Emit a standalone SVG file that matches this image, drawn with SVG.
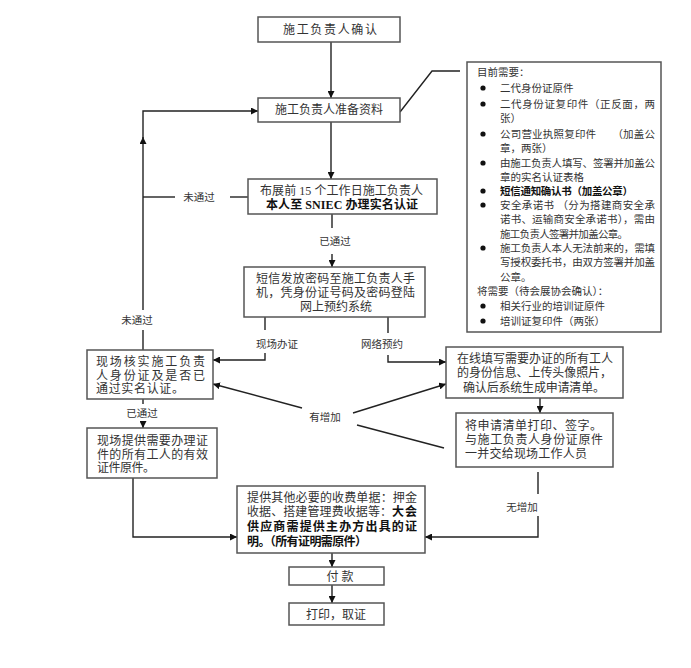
<svg xmlns="http://www.w3.org/2000/svg" width="691" height="668" viewBox="0 0 691 668">
<style>
.bx{fill:#fff;stroke:#555;stroke-width:1.5}
.t{font-family:"Liberation Serif","Noto Sans CJK SC",serif;font-size:12px;fill:#333;dominant-baseline:central}
.b{font-weight:bold;fill:#111}
.s{font-size:10.5px}
.l{font-size:10.5px;text-anchor:middle}
.c{text-anchor:middle}
.ln{fill:none;stroke:#222;stroke-width:1.4}
.ar{marker-end:url(#ah)}
</style>
<defs>
<marker id="ah" viewBox="0 0 10 10" refX="10" refY="5" markerWidth="7" markerHeight="7" orient="auto" markerUnits="userSpaceOnUse"><path d="M0,0 L10,5 L0,10 z" fill="#111"/></marker>
</defs>
<rect width="691" height="668" fill="#fff"/>

<g id="connectors">
<path class="ln ar" d="M331,42 V98"/>
<path class="ln ar" d="M331,122 V179"/>
<path class="ln" d="M400,112 L432,71 H460"/>
<path class="ln" d="M332,214 V228"/>
<path class="ln ar" d="M332,254 V267"/>
<path class="ln" d="M248,197 H230"/>
<path class="ln" d="M175,197 H143"/>
<path class="ln" d="M143,350 V330"/>
<path class="ln ar" d="M143,310 V137"/>
<path class="ln ar" d="M143,140 V111 H258"/>
<path class="ln" d="M265,317 V330"/>
<path class="ln ar" d="M265,353 V360 H213"/>
<path class="ln" d="M388,317 V333"/>
<path class="ln ar" d="M388,355 V362 H446"/>
<path class="ln ar" d="M302,408 L213,384"/>
<path class="ln ar" d="M353,413 L446,384"/>
<path class="ln" d="M357,425 L444,448"/>
<path class="ln" d="M143,399 V404"/>
<path class="ln ar" d="M143,421 V428"/>
<path class="ln ar" d="M133,478 V537 H237"/>
<path class="ln ar" d="M540,398 V413"/>
<path class="ln" d="M538,472 V494"/>
<path class="ln ar" d="M538,516 V537 H425"/>
<path class="ln ar" d="M332,553 V567"/>
<path class="ln ar" d="M332,585 V603"/>
<text class="t l" x="199" y="197">未通过</text>
<text class="t l" x="137" y="320">未通过</text>
<text class="t l" x="335" y="241">已通过</text>
<text class="t l" x="277" y="344">现场办证</text>
<text class="t l" x="382" y="344">网络预约</text>
<text class="t l" x="325" y="417">有增加</text>
<text class="t l" x="142" y="413">已通过</text>
<text class="t l" x="522" y="507">无增加</text>
</g>

<g id="n1">
<rect class="bx" x="258" y="17" width="142" height="25"/>
<text class="t" x="283" y="30" textLength="94" lengthAdjust="spacing">施工负责人确认</text>
</g>

<g id="n2">
<rect class="bx" x="258" y="98" width="142" height="24"/>
<text class="t" x="275" y="110" textLength="108" lengthAdjust="spacing">施工负责人准备资料</text>
</g>

<g id="n3">
<rect class="bx" x="248" y="179" width="189" height="35"/>
<text class="t" x="260" y="191" textLength="163" lengthAdjust="spacing">布展前 15 个工作日施工负责人</text>
<text class="t b" x="266" y="205" textLength="152" lengthAdjust="spacing">本人至 SNIEC 办理实名认证</text>
</g>

<g id="n4">
<rect class="bx" x="244" y="267" width="181" height="50"/>
<text class="t" x="256" y="279" textLength="159" lengthAdjust="spacing">短信发放密码至施工负责人手</text>
<text class="t" x="256" y="293" textLength="159" lengthAdjust="spacing">机，凭身份证号码及密码登陆</text>
<text class="t c" x="336" y="307">网上预约系统</text>
</g>

<g id="n5">
<rect class="bx" x="87" y="350" width="126" height="49"/>
<text class="t" x="96" y="362" textLength="109" lengthAdjust="spacing">现场核实施工负责</text>
<text class="t" x="96" y="376" textLength="109" lengthAdjust="spacing">人身份证及是否已</text>
<text class="t" x="96" y="389" textLength="88" lengthAdjust="spacing">通过实名认证。</text>
</g>

<g id="n6">
<rect class="bx" x="87" y="428" width="130" height="50"/>
<text class="t" x="97" y="441" textLength="111" lengthAdjust="spacing">现场提供需要办理证</text>
<text class="t" x="97" y="455" textLength="111" lengthAdjust="spacing">件的所有工人的有效</text>
<text class="t" x="97" y="468" textLength="58" lengthAdjust="spacing">证件原件。</text>
</g>

<g id="n7">
<rect class="bx" x="446" y="347" width="177" height="51"/>
<text class="t" x="457" y="359" textLength="156" lengthAdjust="spacing">在线填写需要办证的所有工人</text>
<text class="t" x="457" y="373" textLength="155" lengthAdjust="spacing">的身份信息、上传头像照片，</text>
<text class="t" x="463" y="388" textLength="142" lengthAdjust="spacing">确认后系统生成申请清单。</text>
</g>

<g id="n8">
<rect class="bx" x="456" y="413" width="157" height="54"/>
<text class="t" x="465" y="426" textLength="137" lengthAdjust="spacing">将申请清单打印、签字。</text>
<text class="t" x="465" y="440" textLength="138" lengthAdjust="spacing">与施工负责人身份证原件</text>
<text class="t" x="465" y="454" textLength="122" lengthAdjust="spacing">一并交给现场工作人员</text>
</g>

<g id="n9">
<rect class="bx" x="237" y="486" width="188" height="67"/>
<text class="t" x="247" y="498" textLength="170" lengthAdjust="spacing">提供其他必要的收费单据：押金</text>
<text class="t" x="247" y="512" textLength="145" lengthAdjust="spacing">收据、搭建管理费收据等：</text>
<text class="t b" x="392" y="512" textLength="25" lengthAdjust="spacing">大会</text>
<text class="t b" x="247" y="527" textLength="170" lengthAdjust="spacing">供应商需提供主办方出具的证</text>
<text class="t b" x="247" y="542" textLength="120" lengthAdjust="spacing">明。（所有证明需原件）</text>
</g>

<g id="n10">
<rect class="bx" x="289" y="567" width="95" height="18"/>
<text class="t c" x="340" y="577" fill="#555">付 款</text>
</g>

<g id="n11">
<rect class="bx" x="289" y="603" width="95" height="22"/>
<text class="t c" x="336" y="615">打印，取证</text>
</g>

<g id="n12">
<rect class="bx" x="467" y="62" width="194" height="270"/>
<text class="t s" x="477" y="72">目前需要：</text>
<g fill="#111">
<circle cx="483" cy="88" r="2.6"/>
<circle cx="483" cy="104" r="2.6"/>
<circle cx="483" cy="134" r="2.6"/>
<circle cx="483" cy="163" r="2.6"/>
<circle cx="483" cy="191" r="2.6"/>
<circle cx="483" cy="205" r="2.6"/>
<circle cx="483" cy="248" r="2.6"/>
<circle cx="483" cy="306" r="2.6"/>
<circle cx="483" cy="321" r="2.6"/>
</g>
<text class="t s" x="500" y="88">二代身份证原件</text>
<text class="t s" x="500" y="104" textLength="155" lengthAdjust="spacing">二代身份证复印件（正反面，两</text>
<text class="t s" x="500" y="118">张）</text>
<text class="t s" x="500" y="134" textLength="155" lengthAdjust="spacing">公司营业执照复印件　　（加盖公</text>
<text class="t s" x="500" y="148">章，两张）</text>
<text class="t s" x="500" y="163" textLength="155" lengthAdjust="spacing">由施工负责人填写、签署并加盖公</text>
<text class="t s" x="500" y="177">章的实名认证表格</text>
<text class="t s b" x="500" y="191" textLength="133" lengthAdjust="spacing">短信通知确认书（加盖公章）</text>
<text class="t s" x="500" y="205" textLength="155" lengthAdjust="spacing">安全承诺书 （分为搭建商安全承</text>
<text class="t s" x="500" y="219" textLength="155" lengthAdjust="spacing">诺书、运输商安全承诺书），需由</text>
<text class="t s" x="500" y="234" textLength="128" lengthAdjust="spacing">施工负责人签署并加盖公章。</text>
<text class="t s" x="500" y="248" textLength="155" lengthAdjust="spacing">施工负责人本人无法前来的，需填</text>
<text class="t s" x="500" y="262" textLength="155" lengthAdjust="spacing">写授权委托书，由双方签署并加盖</text>
<text class="t s" x="500" y="277">公章。</text>
<text class="t s" x="477" y="291">将需要（待会展协会确认）：</text>
<text class="t s" x="500" y="306">相关行业的培训证原件</text>
<text class="t s" x="500" y="321">培训证复印件（两张）</text>
</g>
</svg>
